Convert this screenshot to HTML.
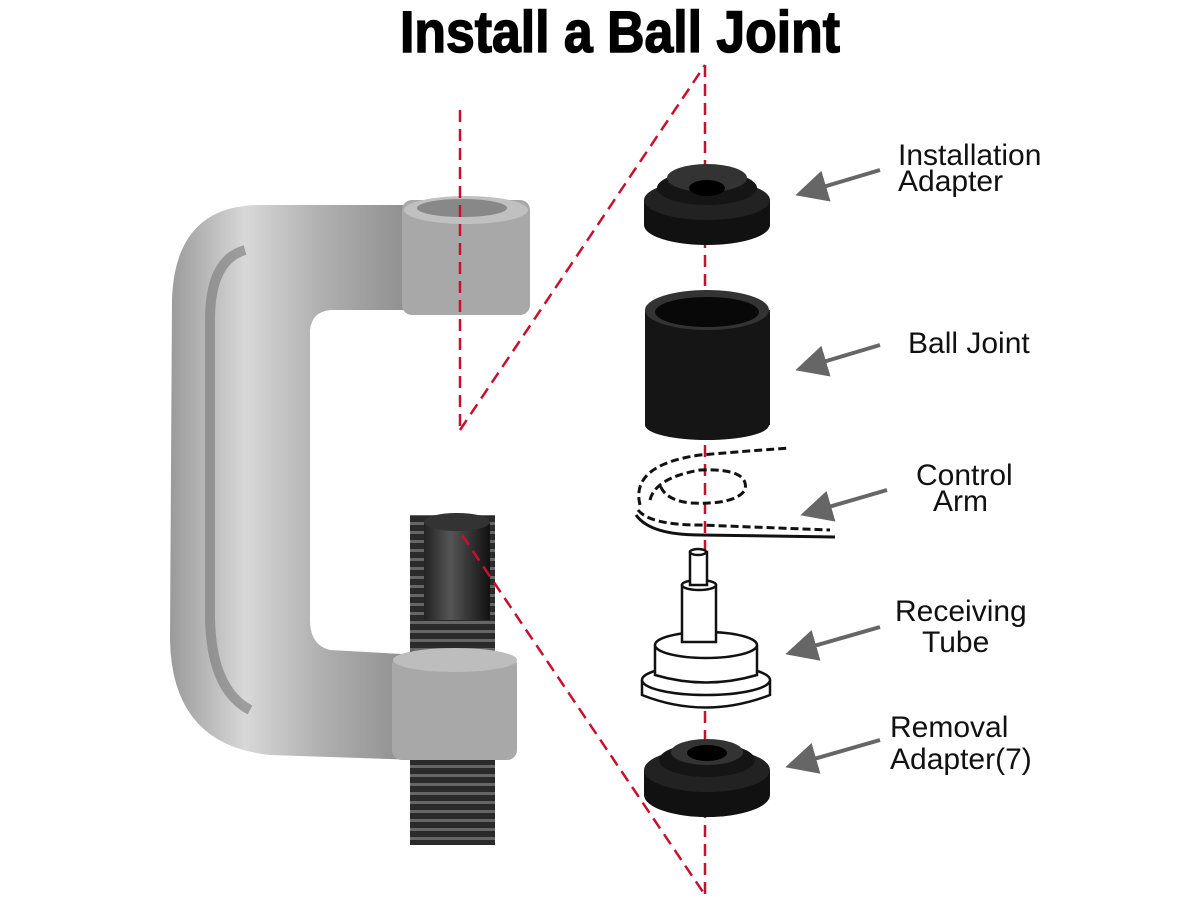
<!DOCTYPE html>
<html><head><meta charset="utf-8"><style>
html,body{margin:0;padding:0;background:#fff;}
svg{display:block}
</style></head><body>
<svg width="1200" height="900" viewBox="0 0 1200 900" xmlns="http://www.w3.org/2000/svg">
<defs>
<linearGradient id="cg" x1="0" x2="1" y1="0" y2="0">
<stop offset="0" stop-color="#9a9a9a"/><stop offset="0.3" stop-color="#d8d8d8"/><stop offset="0.6" stop-color="#b0b0b0"/><stop offset="1" stop-color="#8a8a8a"/>
</linearGradient>
<linearGradient id="scr" x1="0" x2="1"><stop offset="0" stop-color="#222"/><stop offset="0.4" stop-color="#555"/><stop offset="1" stop-color="#111"/></linearGradient>
<pattern id="thr" width="10" height="9" patternUnits="userSpaceOnUse"><rect width="10" height="9" fill="#2a2a2a"/><rect y="0" width="10" height="3" fill="#666"/></pattern>
<marker id="ah" markerWidth="8" markerHeight="8" refX="6" refY="4" orient="auto" markerUnits="strokeWidth"><path d="M0,0 L8,4 L0,8 z" fill="#666"/></marker>
</defs>
<text x="400" y="52" textLength="440" lengthAdjust="spacingAndGlyphs" font-family="'Liberation Sans',sans-serif" font-weight="bold" font-size="58" fill="#000" stroke="#000" stroke-width="1.5">Install a Ball Joint</text>

<!-- C clamp -->
<path d="M420 205 L260 205 Q175 205 172 300 L170 640 Q172 745 270 755 L420 760 L420 655 L330 650 Q310 645 310 620 L310 330 Q312 312 330 310 L420 310 Z" fill="url(#cg)"/>
<path d="M245 250 Q210 260 210 320 L210 620 Q212 690 250 710" fill="none" stroke="#777" stroke-width="10" opacity="0.6"/>
<rect x="402" y="200" width="128" height="115" rx="10" fill="#a8a8a8"/>
<ellipse cx="466" cy="210" rx="62" ry="14" fill="#c0c0c0"/>
<ellipse cx="462" cy="208" rx="45" ry="9" fill="#888"/>
<rect x="410" y="515" width="85" height="330" fill="url(#thr)"/>
<rect x="392" y="655" width="125" height="105" rx="10" fill="#a8a8a8"/>
<ellipse cx="455" cy="660" rx="62" ry="12" fill="#bdbdbd"/>
<rect x="424" y="520" width="66" height="100" fill="url(#scr)"/>
<ellipse cx="457" cy="522" rx="33" ry="9" fill="#333"/>
<rect x="410" y="760" width="85" height="85" fill="url(#thr)"/>

<!-- red dashed -->
<g stroke="#c8102e" stroke-width="2.5" stroke-dasharray="12,7" fill="none">
<line x1="460" y1="110" x2="460" y2="430"/>
<line x1="460" y1="430" x2="705" y2="65"/>
<line x1="705" y1="65" x2="705" y2="895"/>
<line x1="462" y1="535" x2="705" y2="895"/>
</g>

<!-- installation adapter -->
<ellipse cx="707" cy="225" rx="63" ry="20" fill="#111"/>
<rect x="644" y="200" width="126" height="25" fill="#111"/>
<ellipse cx="707" cy="200" rx="63" ry="20" fill="#222"/>
<ellipse cx="707" cy="188" rx="50" ry="17" fill="#151515"/>
<ellipse cx="707" cy="178" rx="40" ry="14" fill="#333"/>
<ellipse cx="707" cy="188" rx="18" ry="8" fill="#000"/>
<!-- ball joint -->
<rect x="645" y="310" width="125" height="115" fill="#151515"/>
<ellipse cx="707" cy="425" rx="62" ry="15" fill="#151515"/>
<ellipse cx="707" cy="310" rx="62" ry="20" fill="#333"/>
<ellipse cx="707" cy="312" rx="52" ry="15" fill="#080808"/>
<!-- control arm -->
<g fill="none" stroke="#111" stroke-width="3">
<path d="M640 505 Q630 465 700 455 Q760 450 790 448" stroke-dasharray="8,4"/>
<path d="M650 500 Q655 478 700 470 Q750 468 745 490 Q735 505 690 503 Q665 500 660 485" stroke-dasharray="8,4"/>
<path d="M638 510 Q650 525 700 525 L830 530" stroke-dasharray="8,4"/>
<path d="M636 515 Q650 535 700 535 L835 537"/>
</g>
<!-- receiving tube -->
<g fill="#fff" stroke="#111" stroke-width="2.5">
<path d="M642 680 L642 695 Q705 720 770 695 L770 680"/>
<ellipse cx="706" cy="680" rx="64" ry="15"/>
<path d="M655 645 L655 675 Q706 690 757 675 L757 645"/>
<ellipse cx="706" cy="645" rx="51" ry="13"/>
<rect x="682" y="585" width="34" height="57"/>
<ellipse cx="699" cy="585" rx="17" ry="5"/>
<rect x="690" y="552" width="17" height="33"/>
<ellipse cx="698" cy="552" rx="8" ry="3"/>
</g>
<!-- removal adapter -->
<ellipse cx="707" cy="795" rx="63" ry="22" fill="#111"/>
<rect x="644" y="770" width="126" height="25" fill="#111"/>
<ellipse cx="707" cy="770" rx="63" ry="22" fill="#222"/>
<ellipse cx="707" cy="760" rx="48" ry="17" fill="#151515"/>
<ellipse cx="707" cy="752" rx="36" ry="13" fill="#333"/>
<ellipse cx="707" cy="753" rx="20" ry="8" fill="#000"/>

<!-- arrows -->
<g stroke="#666" stroke-width="4" marker-end="url(#ah)">
<line x1="880" y1="170" x2="803" y2="193"/>
<line x1="880" y1="345" x2="803" y2="368"/>
<line x1="887" y1="490" x2="808" y2="513"/>
<line x1="880" y1="627" x2="793" y2="652"/>
<line x1="880" y1="740" x2="793" y2="765"/>
</g>

<g font-family="'Liberation Sans',sans-serif" font-size="30" fill="#111">
<text x="898" y="165">Installation</text>
<text x="898" y="191">Adapter</text>
<text x="908" y="353">Ball Joint</text>
<text x="916" y="485">Control</text>
<text x="933" y="511">Arm</text>
<text x="895" y="621">Receiving</text>
<text x="922" y="652">Tube</text>
<text x="890" y="737">Removal</text>
<text x="890" y="769">Adapter(7)</text>
</g>
</svg>
</body></html>
